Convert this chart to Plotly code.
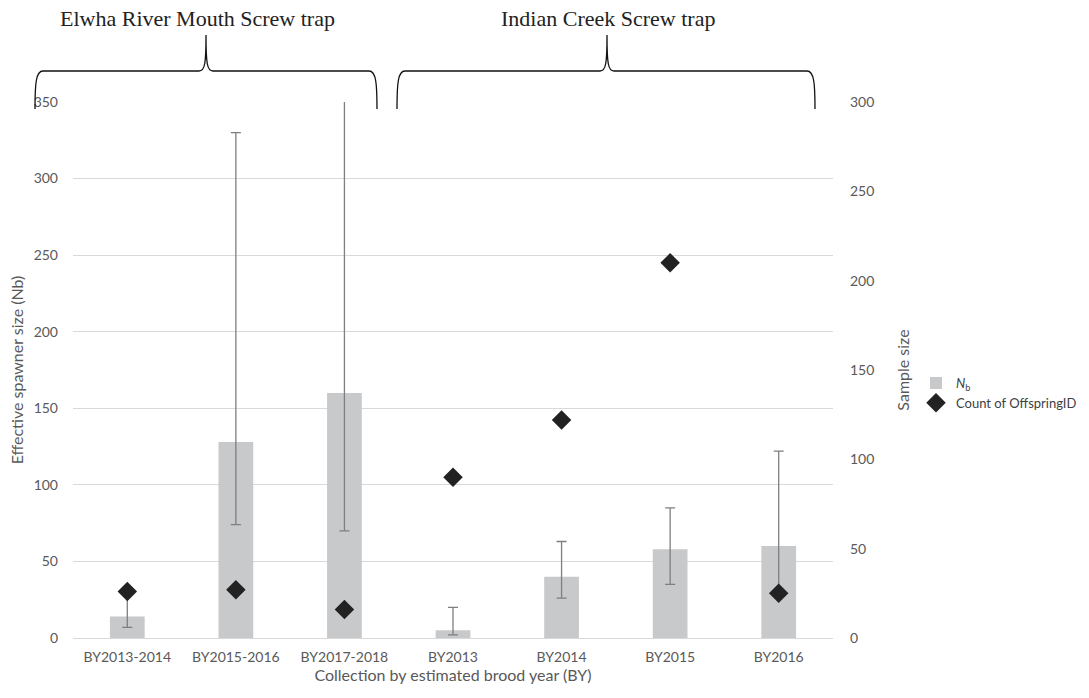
import plotly.graph_objects as go

# Collections by estimated brood year
categories = ["BY2013-2014", "BY2015-2016", "BY2017-2018",
              "BY2013", "BY2014", "BY2015", "BY2016"]

# Effective number of breeders (Nb) with confidence limits
nb = [14, 128, 160, 5, 40, 58, 60]
nb_lower = [7, 74, 70, 2, 26, 35, 31]
nb_upper = [29, 330, 420, 20, 63, 85, 122]

# Number of offspring sampled per collection
offspring_count = [26, 27, 16, 90, 122, 210, 25]

W, H = 1089, 698
L, R, T, B = 73, 833, 102, 638


def px(x):
    return (x - L) / (R - L)


def py(y):
    return (B - y) / (B - T)


def brace(x0, x1, xm, y_bar, y_end, y_tip):
    """Curly brace opening downward, built in paper coordinates."""
    pts = [
        f"M {px(x0)},{py(y_end)}",
        f"C {px(x0)},{py(y_bar + 12)} {px(x0 + 1)},{py(y_bar)} {px(x0 + 8)},{py(y_bar)}",
        f"L {px(xm - 7)},{py(y_bar)}",
        f"C {px(xm - 1)},{py(y_bar)} {px(xm)},{py(y_bar - 8)} {px(xm)},{py(y_tip)}",
        f"C {px(xm)},{py(y_bar - 8)} {px(xm + 1)},{py(y_bar)} {px(xm + 7)},{py(y_bar)}",
        f"L {px(x1 - 8)},{py(y_bar)}",
        f"C {px(x1 - 1)},{py(y_bar)} {px(x1)},{py(y_bar + 12)} {px(x1)},{py(y_end)}",
    ]
    return " ".join(pts)


err_plus = [u - v for u, v in zip(nb_upper, nb)]
err_minus = [v - l for v, l in zip(nb, nb_lower)]

fig = go.Figure()
fig.add_trace(go.Bar(
    x=categories, y=nb, name="<i>N</i><sub>b</sub>",
    marker=dict(color="#c8c9ca", line=dict(width=0)),
    error_y=dict(type="data", symmetric=False, array=err_plus,
                 arrayminus=err_minus, color="#7f7f7f", thickness=1.3, width=5),
    yaxis="y",
))
fig.add_trace(go.Scatter(
    x=categories, y=offspring_count, name="Count of OffspringID",
    mode="markers",
    marker=dict(symbol="diamond", size=15, color="#222222"),
    yaxis="y2",
))

SANS = "Lato, Open Sans, sans-serif"
tick_font = dict(family=SANS, size=14, color="#595959")
title_font = dict(family=SANS, size=16, color="#595959")

fig.update_layout(
    width=W, height=H,
    margin=dict(l=L, r=W - R, t=T, b=H - B, autoexpand=False),
    paper_bgcolor="white", plot_bgcolor="white",
    font=tick_font,
    bargap=0.68,
    showlegend=True,
    legend=dict(x=px(916), y=py(368), xanchor="left", yanchor="top",
                font=dict(family=SANS, size=13, color="#404040"),
                bgcolor="rgba(0,0,0,0)", itemwidth=30, tracegroupgap=4),
    xaxis=dict(
        type="category", showgrid=False, showline=True, linecolor="#d9d9d9",
        ticks="", tickfont=tick_font, ticklabelstandoff=6,
        title=dict(text="Collection by estimated brood year (BY)", font=title_font, standoff=4),
    ),
    yaxis=dict(
        range=[0, 350], tick0=0, dtick=50, showgrid=True, gridcolor="#d9d9d9",
        gridwidth=1, zeroline=False, showline=False, tickfont=tick_font,
        ticklabelstandoff=14,
        title=dict(text="Effective spawner size (Nb)", font=title_font, standoff=6),
    ),
    yaxis2=dict(
        range=[0, 300], tick0=0, dtick=50, overlaying="y", side="right",
        showgrid=False, zeroline=False, showline=False, tickfont=tick_font,
        ticklabelstandoff=16,
        title=dict(text="Sample size", font=title_font, standoff=24),
    ),
    shapes=[
        dict(type="path", xref="paper", yref="paper",
             path=brace(35, 377, 206, 71, 109, 35),
             line=dict(color="#111111", width=1.3)),
        dict(type="path", xref="paper", yref="paper",
             path=brace(397, 815, 607, 71, 109, 35),
             line=dict(color="#111111", width=1.3)),
    ],
    annotations=[
        dict(text="Elwha River Mouth Screw trap", xref="paper", yref="paper",
             x=px(197), y=py(18), xanchor="center", yanchor="middle", showarrow=False,
             font=dict(family="Liberation Serif, Times New Roman, serif", size=22, color="#222222")),
        dict(text="Indian Creek Screw trap", xref="paper", yref="paper",
             x=px(608), y=py(18), xanchor="center", yanchor="middle", showarrow=False,
             font=dict(family="Liberation Serif, Times New Roman, serif", size=22, color="#222222")),
    ],
)

fig.write_html("out.html")
